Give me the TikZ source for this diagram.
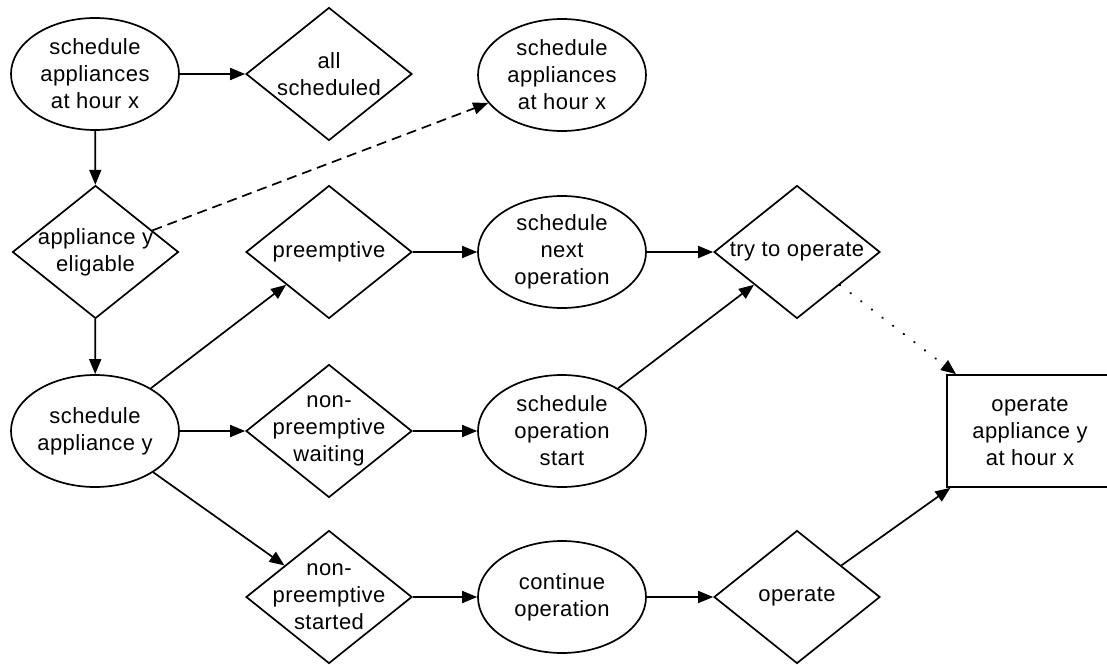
\documentclass[tikz,border=0pt]{standalone}
\usepackage{fontspec}
\setmainfont{Liberation Sans}[LetterSpace=2]
\usetikzlibrary{shapes.geometric,arrows.meta}

\begin{document}
\begin{tikzpicture}[x=1pt,y=-1pt,
  every node/.style={font=\fontsize{22}{27}\selectfont, align=center, line width=1.7pt},
  oval/.style={draw, ellipse, inner sep=0pt, minimum width=168pt, minimum height=112pt},
  choice/.style={draw, diamond, aspect=1.25, inner xsep=-30pt, inner ysep=0pt,
                 minimum width=166pt, minimum height=133pt},
  target/.style={draw, rectangle, minimum width=166pt, minimum height=112pt},
  flow/.style={line width=1.7pt, -{Triangle[length=15pt,width=12pt]}},
  flowdash/.style={flow, dash pattern=on 10pt off 6pt},
  flowdot/.style={flow, line width=2.2pt, line cap=round, dash pattern=on 0.4pt off 13pt}
]
\useasboundingbox (0,0) rectangle (1107,664);

% first column
\node[oval]   (sched)   at (95,74)    {schedule\\appliances\\at hour x};
\node[choice] (elig)    at (95.5,252) {appliance y\\eligable};
\node[oval]   (schedy)  at (95,431)   {schedule\\appliance y};

% second column
\node[choice] (allsch)  at (329,74)   {all\\scheduled};
\node[choice] (pre)     at (329,252)  {preemptive};
\node[choice] (waiting) at (329,431)  {non-\\preemptive\\waiting};
\node[choice] (started) at (329,597)  {non-\\preemptive\\started};

% third column
\node[oval]   (next)    at (562,75)   {schedule\\appliances\\at hour x};
\node[oval]   (nextop)  at (562,252)  {schedule\\next\\operation};
\node[oval]   (opstart) at (562,431)  {schedule\\operation\\start};
\node[oval]   (cont)    at (562,597)  {continue\\operation};

% fourth column and result
\node[choice] (try)     at (797,252)  {try to operate};
\node[choice] (operate) at (797,597)  {operate};
\node[target] (result)  at (1030,431) {operate\\appliance y\\at hour x};

% connectors
\draw[flow]     (sched)   -- (allsch);
\draw[flow]     (sched)   -- (elig);
\draw[flowdash] (elig)    -- (next);
\draw[flow]     (elig)    -- (schedy);
\draw[flow]     (schedy)  -- (pre);
\draw[flow]     (schedy)  -- (waiting);
\draw[flow]     (schedy)  -- (started);
\draw[flow]     (pre)     -- (nextop);
\draw[flow]     (nextop)  -- (try);
\draw[flow]     (waiting) -- (opstart);
\draw[flow]     (opstart) -- (try);
\draw[flow]     (started) -- (cont);
\draw[flow]     (cont)    -- (operate);
\draw[flowdot]  (try)     -- (result);
\draw[flow]     (operate) -- (result);
\end{tikzpicture}
\end{document}
